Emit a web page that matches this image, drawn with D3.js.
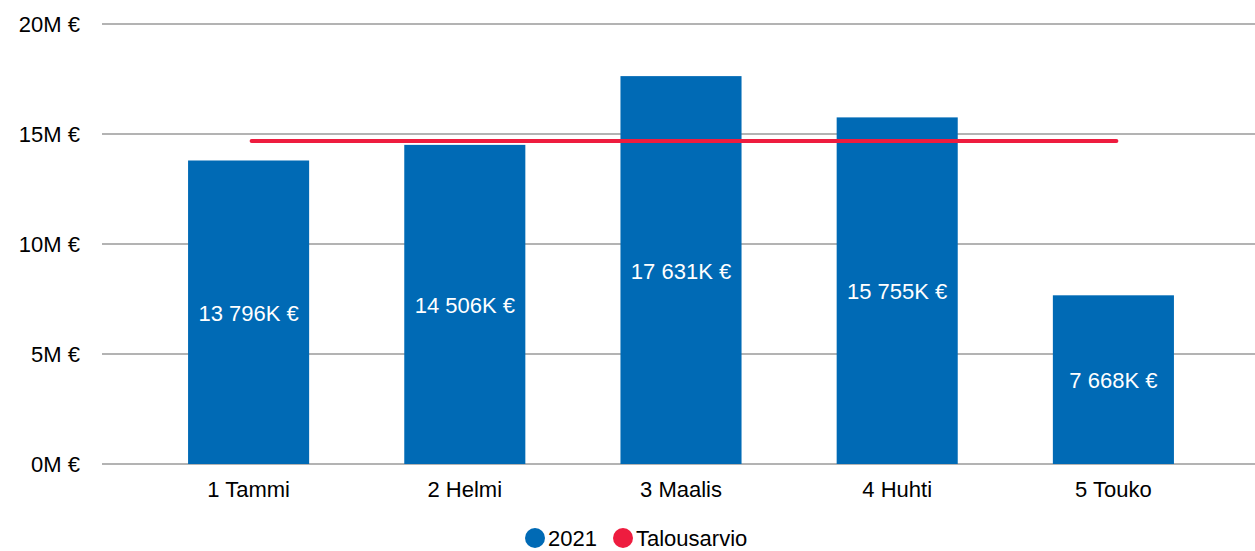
<!DOCTYPE html>
<html><head><meta charset="utf-8">
<script src="https://cdn.jsdelivr.net/npm/d3@7"></script>
<style>
html,body{margin:0;padding:0;background:#fff;}
svg{display:block;font-family:"Liberation Sans",Arial,sans-serif;}
</style></head>
<body>
<svg id="chart" width="1255" height="551"></svg>
<script>
const categories = ["1 Tammi","2 Helmi","3 Maalis","4 Huhti","5 Touko"];
const values2021 = [13796, 14506, 17631, 15755, 7668]; // K €
const budget = [14682, 14682, 14682, 14682, 14682]; // K €
const yTicks = [0, 5000, 10000, 15000, 20000];
const yTickLabels = ["0M €","5M €","10M €","15M €","20M €"];
const seriesNames = ["2021","Talousarvio"];

const blue = "#006ab5", red = "#ee1c3f";
const fs = 22;
const svg = d3.select("#chart");
const x = d3.scaleBand().domain(categories).range([140.5, 1221.5]).paddingInner(0.44).paddingOuter(0.22);
const y = d3.scaleLinear().domain([0, 20000]).range([464, 24]);
const fmt = v => d3.format(",")(v).replace(/,/g, " ") + "K €";

// gridlines
svg.append("g").selectAll("line").data(yTicks).join("line")
  .attr("x1", 102).attr("x2", 1255)
  .attr("y1", d => y(d)).attr("y2", d => y(d))
  .attr("stroke", "#b3b3b3").attr("stroke-width", 2);

// y labels
svg.append("g").selectAll("text").data(yTicks).join("text")
  .attr("x", 80).attr("y", d => y(d)).attr("dy", "0.35em")
  .attr("text-anchor", "end").attr("font-size", fs).attr("fill", "#000")
  .text((d, i) => yTickLabels[i]);

// bars
svg.append("g").selectAll("rect").data(values2021).join("rect")
  .attr("x", (d, i) => x(categories[i])).attr("width", x.bandwidth())
  .attr("y", d => y(d)).attr("height", d => y(0) - y(d))
  .attr("fill", blue);

// bar labels
svg.append("g").selectAll("text").data(values2021).join("text")
  .attr("x", (d, i) => x(categories[i]) + x.bandwidth() / 2)
  .attr("y", d => (y(d) + y(0)) / 2 + 1).attr("dy", "0.35em")
  .attr("text-anchor", "middle").attr("font-size", fs).attr("fill", "#fff")
  .text(fmt);

// budget line
const line = d3.line().x((d, i) => x(categories[i]) + x.bandwidth() / 2 + 3).y(d => y(d));
svg.append("path").datum(budget).attr("d", line)
  .attr("fill", "none").attr("stroke", red).attr("stroke-width", 4).attr("stroke-linecap", "round");

// x labels
svg.append("g").selectAll("text").data(categories).join("text")
  .attr("x", d => x(d) + x.bandwidth() / 2).attr("y", 489).attr("dy", "0.35em")
  .attr("text-anchor", "middle").attr("font-size", fs).attr("fill", "#000")
  .text(d => d);

// legend
const legend = svg.append("g");
const lx = [535, 623];
legend.selectAll("circle").data(seriesNames).join("circle")
  .attr("cx", (d, i) => lx[i]).attr("cy", 538).attr("r", 10)
  .attr("fill", (d, i) => i === 0 ? blue : red);
legend.selectAll("text").data(seriesNames).join("text")
  .attr("x", (d, i) => lx[i] + 13).attr("y", 538).attr("dy", "0.35em")
  .attr("font-size", fs).attr("fill", "#000").text(d => d);
</script>
</body></html>
